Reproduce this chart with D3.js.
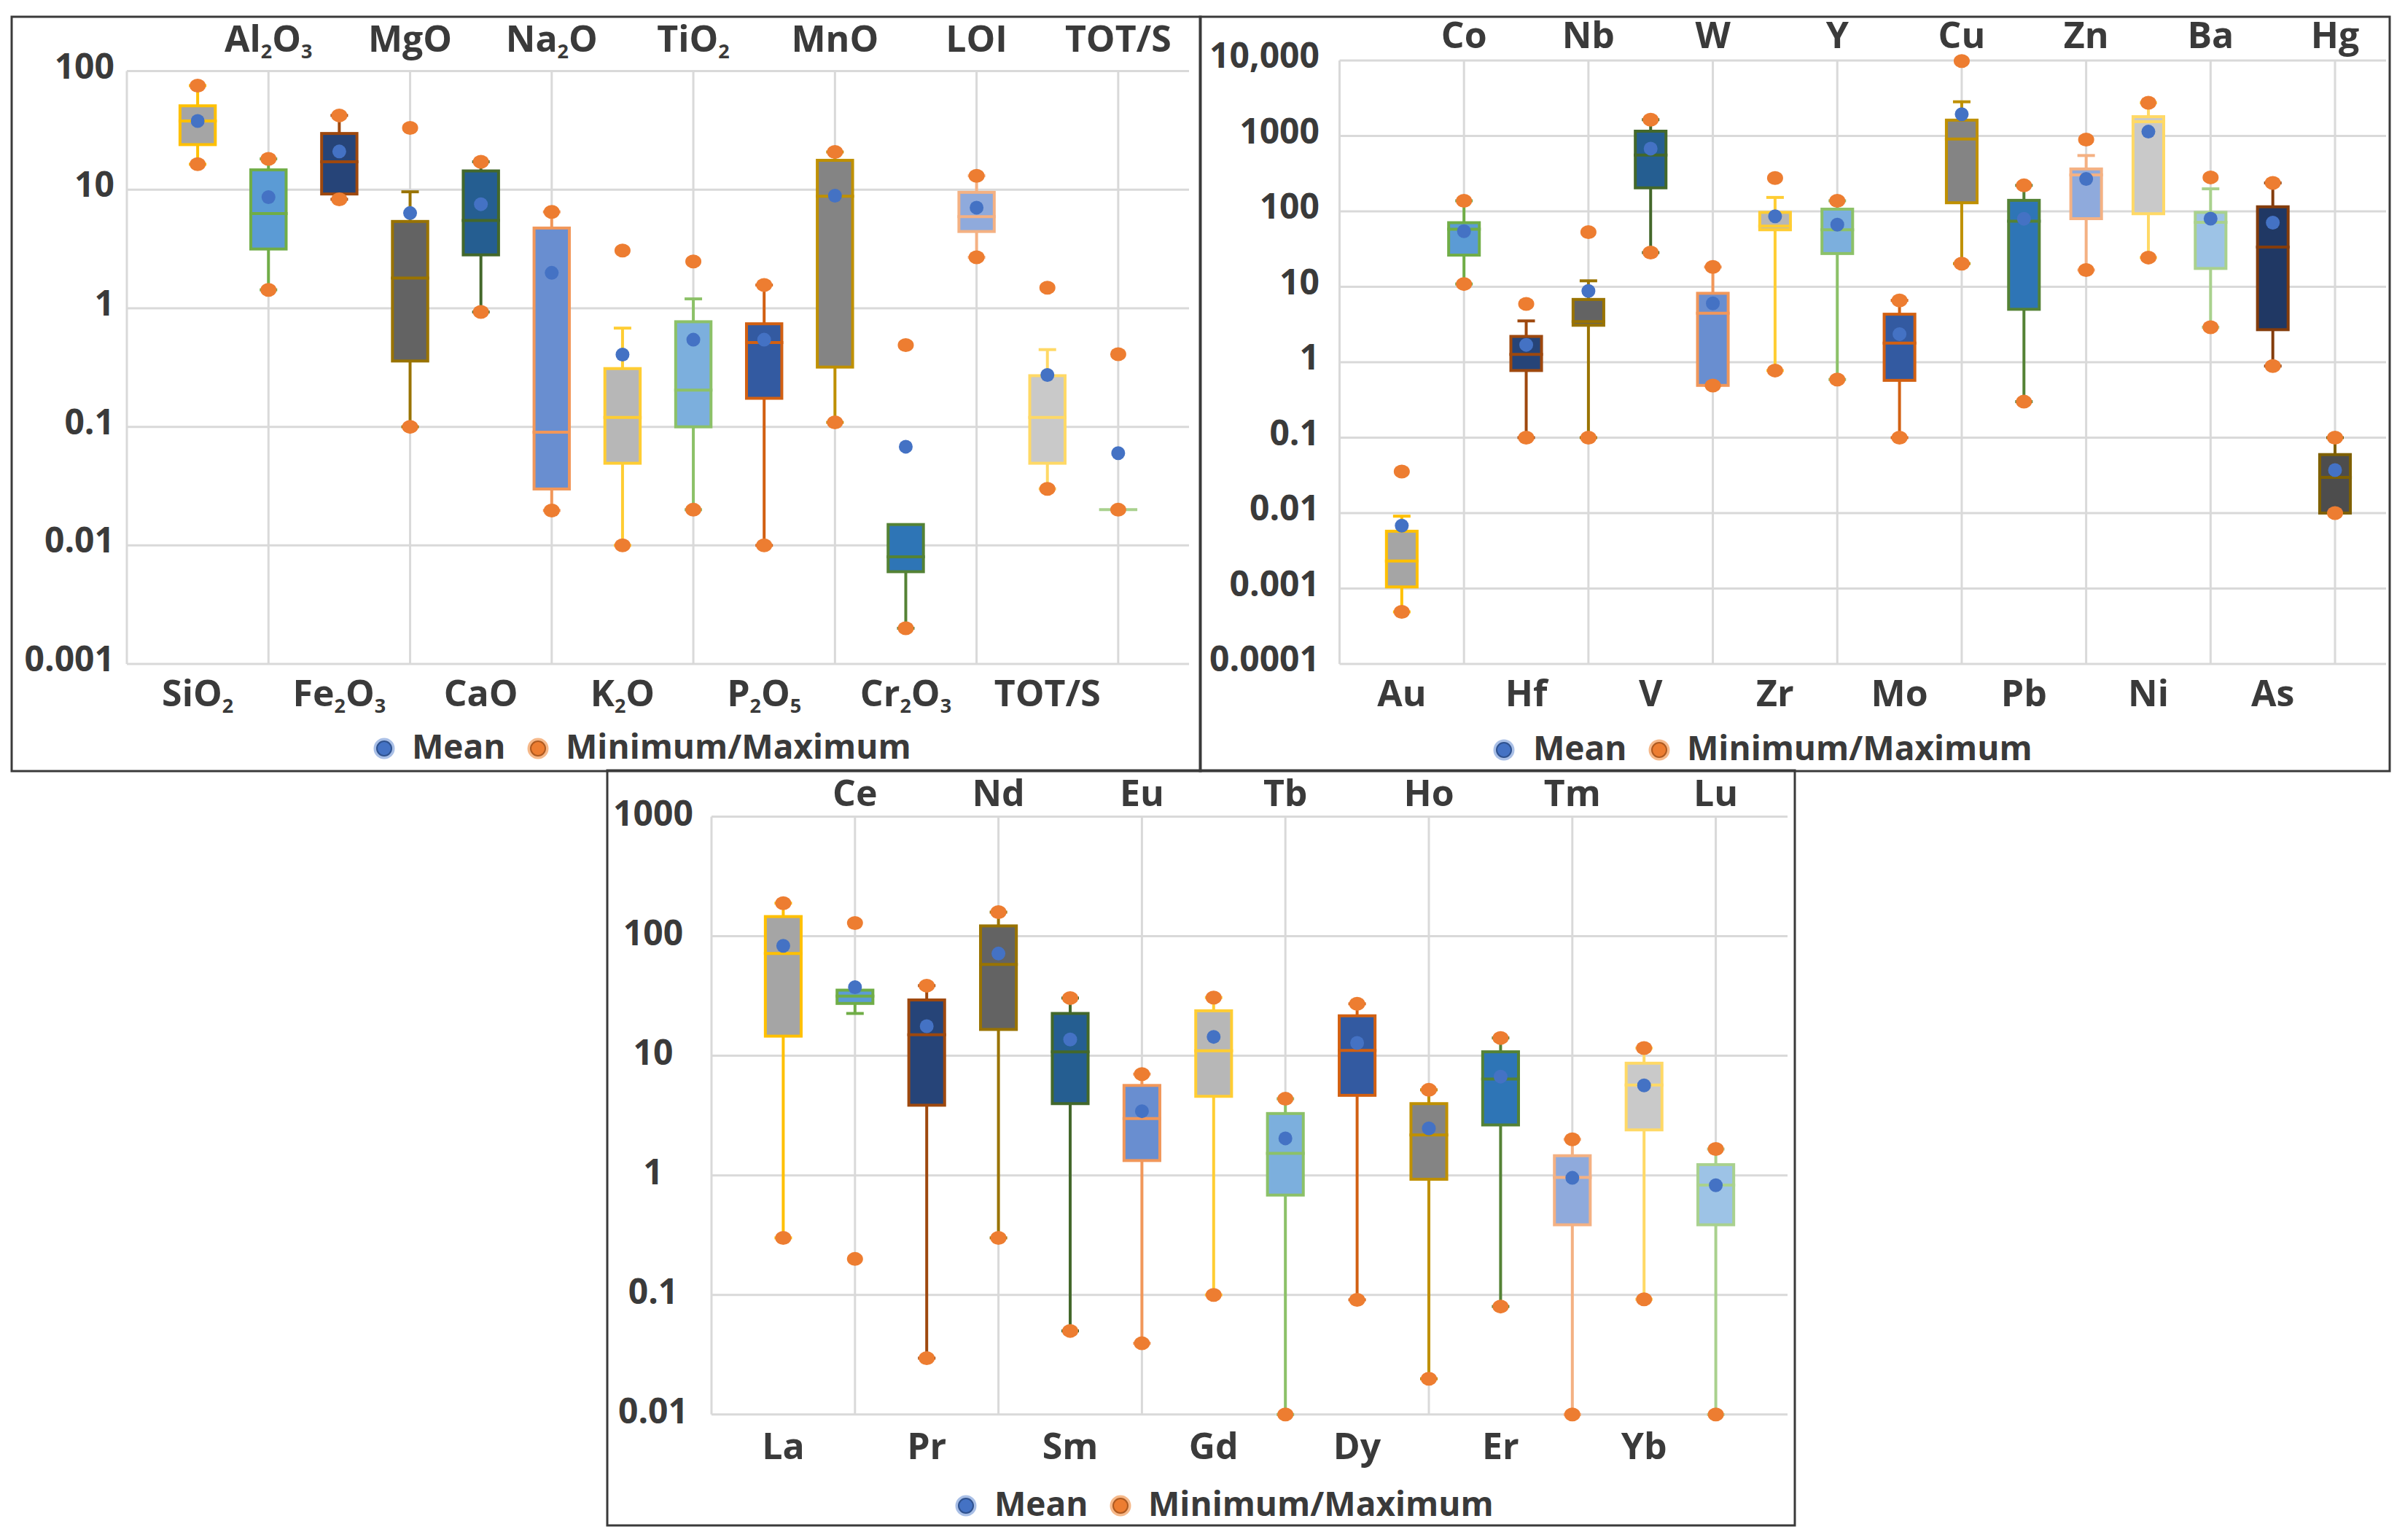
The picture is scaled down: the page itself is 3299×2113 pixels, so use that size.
<!DOCTYPE html>
<html><head><meta charset="utf-8">
<script src="https://cdn.jsdelivr.net/npm/d3@7"></script>
<style>
body{margin:0;background:#fff}
svg text{font-family:'Open Sans',sans-serif;font-weight:700;fill:#3a3a3a}
</style></head>
<body><svg id="chart" width="3299" height="2113"></svg>
<script>
// ---------- DATA: major oxides (top-left) ----------
const oxideCats   = ["SiO2","Al2O3","Fe2O3","MgO","CaO","Na2O","K2O","TiO2","P2O5","MnO","Cr2O3","LOI","TOT/S","TOT/S"];
const oxideMin    = [16.4, 1.43, 8.3, 0.1, 0.93, 0.0197, 0.01, 0.02, 0.01, 0.109, 0.002, 2.69, 0.03, 0.02];
const oxideWLow   = [16.4, 1.43, 8.3, 0.1, 0.93, 0.0197, 0.01, 0.02, 0.01, 0.109, 0.002, 2.69, 0.03, 0.02];
const oxideQ1     = [24, 3.16, 9.2, 0.359, 2.82, 0.0299, 0.0493, 0.1, 0.174, 0.319, 0.006, 4.44, 0.0493, 0.02];
const oxideMedian = [38, 6.3, 17.2, 1.8, 5.5, 0.09, 0.12, 0.204, 0.513, 8.8, 0.008, 5.93, 0.12, 0.02];
const oxideQ3     = [51, 14.7, 29.8, 5.4, 14.4, 4.75, 0.31, 0.77, 0.74, 17.7, 0.015, 9.5, 0.27, 0.02];
const oxideWHigh  = [75.5, 18.2, 42.3, 9.6, 17.2, 6.5, 0.68, 1.2, 1.57, 20.8, 0.015, 13.1, 0.448, 0.02];
const oxideMax    = [75.5, 18.2, 42.3, 33.2, 17.2, 6.5, 3.07, 2.48, 1.57, 20.8, 0.489, 13.1, 1.49, 0.41];
const oxideMean   = [38, 8.65, 21, 6.35, 7.55, 1.99, 0.407, 0.543, 0.543, 8.9, 0.068, 7.06, 0.274, 0.06];
const oxideTicks  = [100, 10, 1, 0.1, 0.01, 0.001];
const oxideTickLabels = ["100","10","1","0.1","0.01","0.001"];

// ---------- DATA: trace elements (top-right) ----------
const traceCats   = ["Au","Co","Hf","Nb","V","W","Zr","Y","Mo","Cu","Pb","Zn","Ni","Ba","As","Hg"];
const traceMin    = [0.00049, 10.9, 0.1, 0.1, 28.4, 0.49, 0.776, 0.59, 0.1, 20.3, 0.3, 16.7, 24.4, 2.91, 0.89, 0.01];
const traceWLow   = [0.00049, 10.9, 0.1, 0.1, 28.4, 0.49, 0.776, 0.59, 0.1, 20.3, 0.3, 16.7, 24.4, 2.91, 0.89, 0.01];
const traceQ1     = [0.00105, 26.3, 0.776, 3.09, 205, 0.493, 57, 27.6, 0.575, 130, 5.03, 80, 93, 17.5, 2.7, 0.01];
const traceMedian = [0.00231, 58, 1.27, 3.45, 558, 4.47, 63.6, 57, 1.79, 908, 74, 304, 1545, 71.8, 33.6, 0.0297];
const traceQ3     = [0.00575, 70.8, 2.2, 6.8, 1156, 8.2, 97, 107, 4.33, 1620, 140, 365, 1800, 97, 115, 0.0597];
const traceWHigh  = [0.0091, 138, 3.53, 12, 1640, 18.3, 153, 138, 6.6, 2836, 221, 550, 2750, 199, 238, 0.1];
const traceMax    = [0.0356, 138, 5.94, 53, 1640, 18.3, 277, 138, 6.6, 9850, 221, 893, 2750, 282, 238, 0.1];
const traceMean   = [0.0068, 54.6, 1.7, 8.8, 679, 6.04, 86, 66.5, 2.36, 1940, 79.8, 269, 1140, 80, 70.8, 0.0372];
const traceTicks  = [10000, 1000, 100, 10, 1, 0.1, 0.01, 0.001, 0.0001];
const traceTickLabels = ["10,000","1000","100","10","1","0.1","0.01","0.001","0.0001"];

// ---------- DATA: rare earth elements (bottom) ----------
const reeCats   = ["La","Ce","Pr","Nd","Sm","Eu","Gd","Tb","Dy","Ho","Er","Tm","Yb","Lu"];
const reeMin    = [0.3, 0.2, 0.0296, 0.3, 0.05, 0.0394, 0.1, 0.01, 0.091, 0.0199, 0.08, 0.01, 0.092, 0.01];
const reeWLow   = [0.3, 22.6, 0.0296, 0.3, 0.05, 0.0394, 0.1, 0.01, 0.091, 0.0199, 0.08, 0.01, 0.092, 0.01];
const reeQ1     = [14.6, 27.4, 3.86, 16.6, 3.98, 1.33, 4.58, 0.684, 4.67, 0.927, 2.64, 0.386, 2.4, 0.386];
const reeMedian = [71.6, 31.6, 15, 58, 10.8, 2.99, 11, 1.53, 11.1, 2.18, 6.4, 0.96, 5.7, 0.83];
const reeQ3     = [146, 35.4, 29.3, 122, 22.6, 5.65, 23.8, 3.29, 21.6, 3.98, 10.8, 1.46, 8.67, 1.23];
const reeWHigh  = [189, 35.4, 38.6, 159, 30.4, 7.03, 30.7, 4.37, 27.2, 5.19, 14.1, 2.0, 11.6, 1.66];
const reeMax    = [189, 129, 38.6, 159, 30.4, 7.03, 30.7, 4.37, 27.2, 5.19, 14.1, 2.0, 11.6, 1.66];
const reeMean   = [83, 37.5, 17.7, 71.6, 13.7, 3.44, 14.4, 2.04, 12.8, 2.47, 6.7, 0.953, 5.65, 0.826];
const reeTicks  = [1000, 100, 10, 1, 0.1, 0.01];
const reeTickLabels = ["1000","100","10","1","0.1","0.01"];

const legendLabels = ["Mean", "Minimum/Maximum"];

// ---------- STYLES ----------
const boxFills   = ["#a5a5a5","#5b9bd5","#264478","#636363","#255e91","#698ed0","#b7b7b7","#7cafdd","#335aa1","#848484","#2e75b6","#8faadc","#c9c9c9","#9dc3e6","#203864","#4d4d4d"];
const boxStrokes = ["#ffc000","#70ad47","#9e480e","#997300","#43682b","#f1975a","#ffcd33","#8cc168","#d26012","#bf9000","#548235","#f4b183","#ffd966","#a9d18e","#843c0c","#7f6000"];
const meanColor = "#4472c4", extColor = "#ed7d31";

const svg = d3.select("#chart");

function addLabel(sel, str, subscripts) {
  if (!subscripts) { sel.text(str); return; }
  const parts = str.split(/(\d+)/).filter(s => s.length);
  let shifted = false;
  parts.forEach(p => {
    const isNum = /^\d+$/.test(p);
    const t = sel.append("tspan").text(p);
    if (isNum) { t.attr("font-size", 27).attr("dy", shifted ? 0 : 9); shifted = true; }
    else if (shifted) { t.attr("dy", -9); shifted = false; }
  });
}

function drawPanel(cfg) {
  const g = svg.append("g");
  const n = cfg.cats.length;
  const x = d3.scaleLinear().domain([0, cfg.xDomainEnd]).range([cfg.x0, cfg.x1]);
  const y = d3.scaleLog().domain([cfg.ticks[cfg.ticks.length - 1], cfg.ticks[0]]).range([cfg.yBottom, cfg.yTop]);
  const step = x(1) - x(0);
  const boxW = step * 0.54 - 4;
  const capW = 24;

  g.selectAll(".hg").data(cfg.ticks).join("line")
    .attr("x1", cfg.x0).attr("x2", cfg.x1)
    .attr("y1", d => y(d)).attr("y2", d => y(d))
    .attr("stroke", "#d9d9d9").attr("stroke-width", 3);
  g.append("line").attr("x1", cfg.x0).attr("x2", cfg.x0).attr("y1", cfg.yTop).attr("y2", cfg.yBottom)
    .attr("stroke", "#d9d9d9").attr("stroke-width", 3);
  const evens = d3.range(2, n + 1, 2);
  g.selectAll(".vg").data(evens).join("line")
    .attr("x1", d => x(d)).attr("x2", d => x(d))
    .attr("y1", cfg.yTop).attr("y2", cfg.yBottom)
    .attr("stroke", "#d9d9d9").attr("stroke-width", 3);

  g.selectAll(".tl").data(cfg.ticks).join("text")
    .attr("x", cfg.tickX).attr("y", d => y(d) + cfg.tickDy)
    .attr("text-anchor", cfg.tickAnchor).attr("font-size", 48)
    .text((d, i) => cfg.tickLabels[i]);

  const idx = d3.range(n);
  idx.forEach(i => {
    const cx = x(i + 1), col = boxStrokes[i];
    if (cfg.wHigh[i] > cfg.q3[i]) {
      g.append("line").attr("x1", cx).attr("x2", cx).attr("y1", y(cfg.q3[i])).attr("y2", y(cfg.wHigh[i]))
        .attr("stroke", col).attr("stroke-width", 4);
      g.append("line").attr("x1", cx - capW / 2).attr("x2", cx + capW / 2).attr("y1", y(cfg.wHigh[i])).attr("y2", y(cfg.wHigh[i]))
        .attr("stroke", col).attr("stroke-width", 4);
    }
    if (cfg.wLow[i] < cfg.q1[i]) {
      g.append("line").attr("x1", cx).attr("x2", cx).attr("y1", y(cfg.q1[i])).attr("y2", y(cfg.wLow[i]))
        .attr("stroke", col).attr("stroke-width", 4);
      g.append("line").attr("x1", cx - capW / 2).attr("x2", cx + capW / 2).attr("y1", y(cfg.wLow[i])).attr("y2", y(cfg.wLow[i]))
        .attr("stroke", col).attr("stroke-width", 4);
    }
  });
  g.selectAll(".box").data(idx).join("rect")
    .attr("x", i => x(i + 1) - boxW / 2).attr("width", boxW)
    .attr("y", i => y(cfg.q3[i])).attr("height", i => y(cfg.q1[i]) - y(cfg.q3[i]))
    .attr("fill", i => boxFills[i]).attr("stroke", i => boxStrokes[i]).attr("stroke-width", 4);
  g.selectAll(".med").data(idx).join("line")
    .attr("x1", i => x(i + 1) - boxW / 2 - 2).attr("x2", i => x(i + 1) + boxW / 2 + 2)
    .attr("y1", i => y(cfg.median[i])).attr("y2", i => y(cfg.median[i]))
    .attr("stroke", i => boxStrokes[i]).attr("stroke-width", 4);
  g.selectAll(".mean").data(idx).join("circle")
    .attr("cx", i => x(i + 1)).attr("cy", i => y(cfg.mean[i])).attr("r", 9.5).attr("fill", meanColor);
  const ext = idx.flatMap(i => [[i, cfg.min[i]], [i, cfg.max[i]]]);
  g.selectAll(".ext").data(ext).join("ellipse")
    .attr("cx", d => x(d[0] + 1)).attr("cy", d => y(d[1])).attr("rx", 11).attr("ry", 9.5).attr("fill", extColor);

  idx.forEach(i => {
    const top = (i % 2 === 1);
    const t = g.append("text").attr("x", x(i + 1)).attr("y", top ? cfg.topLabelY : cfg.bottomLabelY)
      .attr("text-anchor", "middle").attr("font-size", 50);
    addLabel(t, cfg.cats[i], cfg.subscripts);
  });

  const lg = g.append("g");
  const items = [[meanColor, "#a9bfe6", "#2f528f"], [extColor, "#f6b889", "#ae5a21"]];
  items.forEach((c, k) => {
    const mx = cfg.legend[k * 2], tx = cfg.legend[k * 2 + 1];
    lg.append("circle").attr("cx", mx).attr("cy", cfg.legendY).attr("r", 14.5).attr("fill", c[1]);
    lg.append("circle").attr("cx", mx).attr("cy", cfg.legendY).attr("r", 10).attr("fill", c[0]).attr("stroke", c[2]).attr("stroke-width", 2);
    lg.append("text").attr("x", tx).attr("y", cfg.legendY + 14).attr("font-size", 46).text(legendLabels[k]);
  });

  svg.append("rect").attr("x", cfg.bx).attr("y", cfg.by).attr("width", cfg.bw).attr("height", cfg.bh)
    .attr("fill", "none").attr("stroke", "#3a3a3a").attr("stroke-width", 3);
}

drawPanel({
  cats: oxideCats, min: oxideMin, wLow: oxideWLow, q1: oxideQ1, median: oxideMedian, q3: oxideQ3,
  wHigh: oxideWHigh, max: oxideMax, mean: oxideMean, ticks: oxideTicks, tickLabels: oxideTickLabels,
  subscripts: true,
  x0: 174, x1: 1631, xDomainEnd: 15, yTop: 97.6, yBottom: 911,
  tickX: 157, tickAnchor: "end", tickDy: 10,
  topLabelY: 71, bottomLabelY: 969,
  legend: [527, 565, 738, 776], legendY: 1027,
  bx: 16, by: 23, bw: 1631, bh: 1035
});
drawPanel({
  cats: traceCats, min: traceMin, wLow: traceWLow, q1: traceQ1, median: traceMedian, q3: traceQ3,
  wHigh: traceWHigh, max: traceMax, mean: traceMean, ticks: traceTicks, tickLabels: traceTickLabels,
  subscripts: false,
  x0: 1837.5, x1: 3273, xDomainEnd: 16.82, yTop: 83, yBottom: 911,
  tickX: 1810, tickAnchor: "end", tickDy: 10,
  topLabelY: 66, bottomLabelY: 969,
  legend: [2063, 2103, 2276, 2314], legendY: 1029,
  bx: 1646, by: 23, bw: 1632, bh: 1035
});
drawPanel({
  cats: reeCats, min: reeMin, wLow: reeWLow, q1: reeQ1, median: reeMedian, q3: reeQ3,
  wHigh: reeWHigh, max: reeMax, mean: reeMean, ticks: reeTicks, tickLabels: reeTickLabels,
  subscripts: false,
  x0: 976, x1: 2452, xDomainEnd: 15, yTop: 1120.5, yBottom: 1940.8,
  tickX: 896, tickAnchor: "middle", tickDy: 12,
  topLabelY: 1106, bottomLabelY: 2002,
  legend: [1325, 1364, 1537, 1575], legendY: 2066,
  bx: 833, by: 1057, bw: 1629, bh: 1036
});
</script></body></html>
